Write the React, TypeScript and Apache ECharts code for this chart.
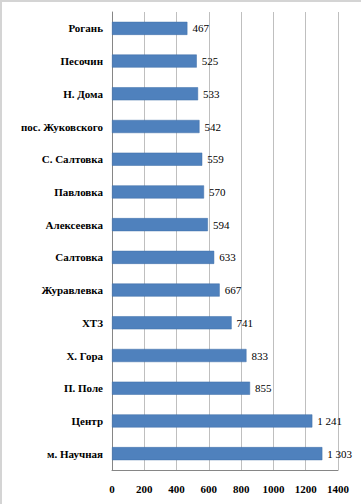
import React, { useEffect, useRef } from "react";
import * as echarts from "echarts";

const categories = [
  "Рогань",
  "Песочин",
  "Н. Дома",
  "пос. Жуковского",
  "С. Салтовка",
  "Павловка",
  "Алексеевка",
  "Салтовка",
  "Журавлевка",
  "ХТЗ",
  "Х. Гора",
  "П. Поле",
  "Центр",
  "м. Научная",
];
const values = [467, 525, 533, 542, 559, 570, 594, 633, 667, 741, 833, 855, 1241, 1303];

const FONT = "'Liberation Serif', 'Times New Roman', serif";
const fmt = (v: number) => String(v).replace(/\B(?=(\d{3})+(?!\d))/g, " ");

export default function App() {
  const ref = useRef<HTMLDivElement>(null);
  useEffect(() => {
    const chart = echarts.init(ref.current!, null, { renderer: "svg" });
    chart.setOption({
      animation: false,
      backgroundColor: "#ffffff",
      textStyle: { fontFamily: FONT },
      graphic: [
        { type: "rect", shape: { x: 0, y: 0, width: 361, height: 2 }, style: { fill: "#d4d4d4" } },
        { type: "rect", shape: { x: 0, y: 0, width: 2, height: 504 }, style: { fill: "#d4d4d4" } },
      ],
      grid: { left: 112, right: 23, top: 12, bottom: 34, containLabel: false },
      xAxis: {
        type: "value",
        min: 0,
        max: 1400,
        interval: 200,
        axisLine: { show: true, lineStyle: { color: "#868686" } },
        axisTick: { show: false },
        splitLine: { show: true, lineStyle: { color: "#bfbfbf" } },
        axisLabel: {
          fontFamily: FONT,
          fontSize: 11,
          fontWeight: "bold",
          color: "#000",
          margin: 13,
          formatter: (v: number) => String(v),
        },
      },
      yAxis: {
        type: "category",
        data: categories,
        inverse: true,
        axisLine: { show: true, lineStyle: { color: "#868686" } },
        axisTick: { show: false },
        axisLabel: {
          fontFamily: FONT,
          fontSize: 11,
          fontWeight: "bold",
          color: "#000",
          margin: 9,
        },
      },
      series: [
        {
          type: "bar",
          data: values,
          barCategoryGap: "60%",
          itemStyle: { color: "#4f81bd", borderColor: "#3f6fa8", borderWidth: 0.5 },
          label: {
            show: true,
            position: "right",
            distance: 5,
            fontFamily: FONT,
            fontSize: 11,
            color: "#000",
            formatter: (p: any) => fmt(p.value),
          },
        },
      ],
    });
    return () => chart.dispose();
  }, []);
  return (
    <div
      ref={ref}
      style={{ position: "fixed", left: 0, top: 0, width: 361, height: 504 }}
    />
  );
}
